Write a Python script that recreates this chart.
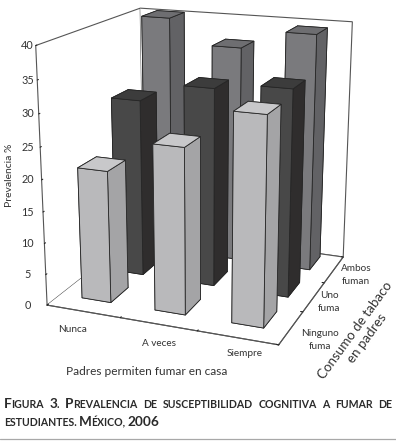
import numpy as np, matplotlib
matplotlib.use('Agg')
import matplotlib.pyplot as plt, seaborn as sns
from mpl_toolkits.mplot3d import proj3d

permiso = ['Nunca', 'A veces', 'Siempre']
padres = ['Ninguno\nfuma', 'Uno\nfuma', 'Ambos\nfuman']
ninguno = [21, 26, 32]
uno = [29, 32, 33]
ambos = [40, 36, 39]
z_ticks = [0, 5, 10, 15, 20, 25, 30, 35, 40]
titulo_z = 'Prevalencia %'
titulo_x = 'Padres permiten fumar en casa'
titulo_y = ['Consumo de tabaco', 'en padres']
pie_1 = 'Figura 3. Prevalencia de susceptibilidad cognitiva a fumar de'
pie_2 = 'estudiantes. México, 2006'

sns.set_style('white')
plt.rcParams['font.family'] = ['Lato', 'DejaVu Sans']
TXT = '#333333'

fig = plt.figure(figsize=(3.96, 4.44), dpi=100)
ax = fig.add_subplot(projection='3d', computed_zorder=False)
ax.set_xlim(0, 3, view_margin=0); ax.set_ylim(0, 3, view_margin=0); ax.set_zlim(0, 40, view_margin=0)
ax.view_init(16.847, -68.531)
ax.set_proj_type('persp', focal_length=0.51)
ax.set_box_aspect((0.9225, 0.8907, 1))
ax.set_position([-0.0150, 0.1682, 1.0269, 0.9159])
ax.patch.set_alpha(0)

for axis in (ax.xaxis, ax.yaxis, ax.zaxis):
    axis.set_pane_color((1, 1, 1, 1))
    axis.pane.set_edgecolor('#555555')
    axis.pane.set_linewidth(0.8)
    axis.line.set_color('#555555')
    axis.line.set_linewidth(0.8)
    axis._axinfo['grid']['linewidth'] = 0
    axis._axinfo['tick']['inward_factor'] = 0
    axis._axinfo['tick']['outward_factor'] = 0.12
    axis._axinfo['tick']['linewidth'] = {True: 0.8, False: 0.5}
    axis._axinfo['tick']['color'] = '#555555'
ax.grid(False)
ax.set_xticks([0, 1, 2, 3])
ax.set_yticks([0, 1, 2, 3])
ax.set_zticks(z_ticks)
ax.tick_params(axis='x', label1On=False)
ax.tick_params(axis='y', label1On=False)
ax.tick_params(axis='z', label1On=False)
ax.zaxis.set_ticks_position('lower')

caras = [
    ('#b9b9bb', '#a4a4a6', '#c8c8ca'),
    ('#484848', '#2f2d2d', '#3c3c3c'),
    ('#7a7a7d', '#626265', '#6e6e71'),
]
BW, BD, X0, Y0 = 0.40, 0.52, 0.30, 0.37
for j, fila in reversed(list(enumerate([ninguno, uno, ambos]))):
    fr, la, te = caras[j]
    for i, h in enumerate(fila):
        ax.bar3d(i + X0, j + Y0, 0, BW, BD, h, shade=False,
                 color=[fr, te, fr, fr, la, la], edgecolor='#262626', linewidth=0.6,
                 zorder=10 + (2 - j) * 10 + i)

# z tick labels: height from the axis' own projection, in one aligned column
fig.canvas.draw()
M = ax.get_proj()
for v in z_ticks:
    X, Y, _ = proj3d.proj_transform(0, 0, v, M)
    ypx = ax.transData.transform((X, Y))[1]
    fig.text(27.5 / 396, ypx / 444, str(v), fontsize=7.8, color=TXT, ha='center', va='center')

for nom, px, py in zip(permiso, [73, 159, 245], [330, 343, 353]):
    fig.text(px / 396, 1 - py / 444, nom, fontsize=7.2, color=TXT, ha='center', va='center')
for nom, px, py in zip(padres, [320, 329, 356], [340, 302, 275]):
    fig.text(px / 396, 1 - py / 444, nom, fontsize=7.2, color=TXT, ha='center', va='center', linespacing=1.45)

fig.text(10 / 396, 1 - 175 / 444, titulo_z, rotation=90, fontsize=7.5, color=TXT, ha='center', va='center')
fig.text(147 / 396, 1 - 371 / 444, titulo_x, fontsize=8.6, color=TXT, ha='center', va='center')
for linea_y, px, py in zip(titulo_y, [355.5, 367], [330, 338.5]):
    fig.text(px / 396, 1 - py / 444, linea_y, rotation=54, fontsize=9.6, color=TXT, ha='center', va='center')

# caption in small capitals
GR, PE = 9.8, 7.6
r = fig.canvas.get_renderer()
def partes(pal):
    out, cur, big = [], '', None
    for ch in pal:
        b = ch.isupper() or ch.isdigit()
        if big is None or b == big:
            cur += ch
        else:
            out.append((cur, big)); cur = ch
        big = b
    out.append((cur, big))
    return [(t.upper(), g) for t, g in out]
def ancho(t, g):
    tt = fig.text(0.5, 0.5, t, fontsize=GR if g else PE, fontweight='bold')
    w = tt.get_window_extent(r).width
    tt.remove()
    return w - 0.6
def linea(txt, x0, y, x1=None, esp=3.0):
    pals = txt.split(' ')
    ws = [sum(ancho(t, g) for t, g in partes(p)) for p in pals]
    if x1 is not None:
        esp = (x1 - x0 - sum(ws)) / (len(pals) - 1)
    x = x0
    for p, w in zip(pals, ws):
        for t, g in partes(p):
            fig.text(x / 396, 1 - y / 444, t, fontsize=GR if g else PE, fontweight='bold', color='#2a2a2a', va='baseline')
            x += ancho(t, g)
        x += esp
linea(pie_1, 4, 408, 392)
linea(pie_2, 4, 426)
fig.add_artist(plt.Line2D([0, 1], [1 - 439 / 444] * 2, color='#a8a8a8', lw=0.9))
fig.savefig('out.png', dpi=100)
